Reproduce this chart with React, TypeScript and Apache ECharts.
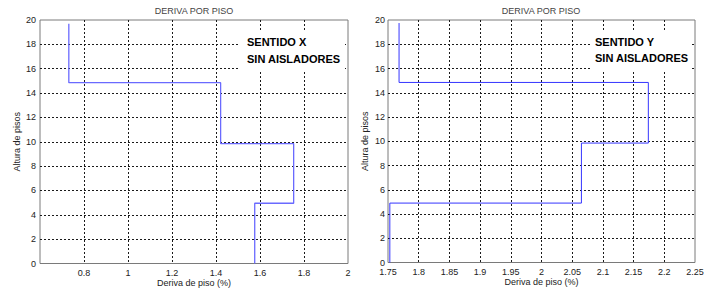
import React, { useEffect, useRef } from "react";
import * as echarts from "echarts";

const levelsX = [19.7, 14.85, 9.85, 4.95, 0];
const driftX = [0.731, 1.421, 1.753, 1.576];
const levelsY = [19.75, 14.85, 9.85, 4.9, 0];
const driftY = [1.768, 2.174, 2.065, 1.753];

const chartTitle = "DERIVA POR PISO";
const xName = "Deriva de piso (%)";
const yName = "Altura de pisos";
const noteX = ["SENTIDO X", "SIN AISLADORES"];
const noteY = ["SENTIDO Y", "SIN AISLADORES"];

function stairs(drifts: number[], levels: number[]) {
  const pts: number[][] = [];
  for (let i = 0; i < drifts.length; i++) {
    pts.push([drifts[i], levels[i]]);
    pts.push([drifts[i], levels[i + 1]]);
  }
  return pts;
}

const FONT = "Liberation Sans, Arial, sans-serif";

export default function App() {
  const ref = useRef<HTMLDivElement>(null);
  useEffect(() => {
    if (!ref.current) return;
    const chart = echarts.init(ref.current, undefined, { renderer: "svg" });
    const splitLine = {
      show: true,
      showMinLine: false,
      showMaxLine: false,
      lineStyle: { color: "#1a1a1a", type: [2, 2], width: 1 },
    };
    const axisLabel = { fontSize: 9, color: "#222", fontFamily: FONT };
    const nameStyle = { fontSize: 9, color: "#222", fontFamily: FONT };
    const mkX = (gi: number, min: number, max: number, interval: number, showMin: boolean) => ({
      type: "value",
      gridIndex: gi,
      min,
      max,
      interval,
      name: xName,
      nameLocation: "middle",
      nameGap: 15,
      nameMoveOverlap: false,
      nameTextStyle: nameStyle,
      axisLine: { show: false },
      axisTick: { show: false },
      axisLabel: { ...axisLabel, margin: 5, showMinLabel: showMin },
      splitLine,
    });
    const mkY = (gi: number, gap: number, margin: number) => ({
      type: "value",
      gridIndex: gi,
      min: 0,
      max: 20,
      interval: 2,
      name: yName,
      nameLocation: "middle",
      nameGap: gap,
      nameMoveOverlap: false,
      nameTextStyle: nameStyle,
      axisLine: { show: false },
      axisTick: { show: false },
      axisLabel: { ...axisLabel, margin },
      splitLine,
    });
    const textEl = (x: number, y: number, t: string, size: number, bold: boolean, align: string, color: string) => ({
      type: "text",
      x,
      y,
      z: 101,
      style: {
        text: t,
        fontSize: size,
        fontWeight: bold ? "bold" : "normal",
        fontFamily: FONT,
        fill: color,
        align,
        verticalAlign: "middle",
      },
    });
    chart.setOption({
      animation: false,
      backgroundColor: "#fff",
      grid: [
        { left: 40, top: 20, width: 308, height: 243.5, show: true, borderColor: "#7a7a7a", borderWidth: 1, containLabel: false, outerBoundsMode: "none" },
        { left: 388, top: 20, width: 307, height: 242.5, show: true, borderColor: "#7a7a7a", borderWidth: 1, containLabel: false, outerBoundsMode: "none" },
      ],
      xAxis: [mkX(0, 0.6, 2, 0.2, false), mkX(1, 1.75, 2.25, 0.05, true)],
      yAxis: [mkY(0, 19, 4), mkY(1, 19, 3)],
      series: [
        {
          type: "line",
          xAxisIndex: 0,
          yAxisIndex: 0,
          data: stairs(driftX, levelsX),
          showSymbol: false,
          lineStyle: { color: "#6a6aff", width: 1.3 },
          z: 5,
        },
        {
          type: "line",
          xAxisIndex: 1,
          yAxisIndex: 1,
          data: stairs(driftY, levelsY),
          showSymbol: false,
          lineStyle: { color: "#3535ff", width: 1 },
          z: 5,
        },
      ],
      graphic: [
        { type: "rect", z: 100, shape: { x: 238, y: 31, width: 107, height: 41 }, style: { fill: "#fff" } },
        { type: "rect", z: 100, shape: { x: 590, y: 30, width: 102, height: 40 }, style: { fill: "#fff" } },
        textEl(247, 42, noteX[0], 11, true, "left", "#000"),
        textEl(247, 58.5, noteX[1], 11, true, "left", "#000"),
        textEl(595, 42, noteY[0], 11, true, "left", "#000"),
        textEl(595, 58, noteY[1], 11, true, "left", "#000"),
        textEl(194, 10.5, chartTitle, 9, false, "center", "#444"),
        textEl(541, 10.5, chartTitle, 9, false, "center", "#444"),
      ],
    });
    return () => chart.dispose();
  }, []);
  return (
    <div
      ref={ref}
      style={{ position: "fixed", left: 0, top: 0, width: 715, height: 290, background: "#fff" }}
    />
  );
}
